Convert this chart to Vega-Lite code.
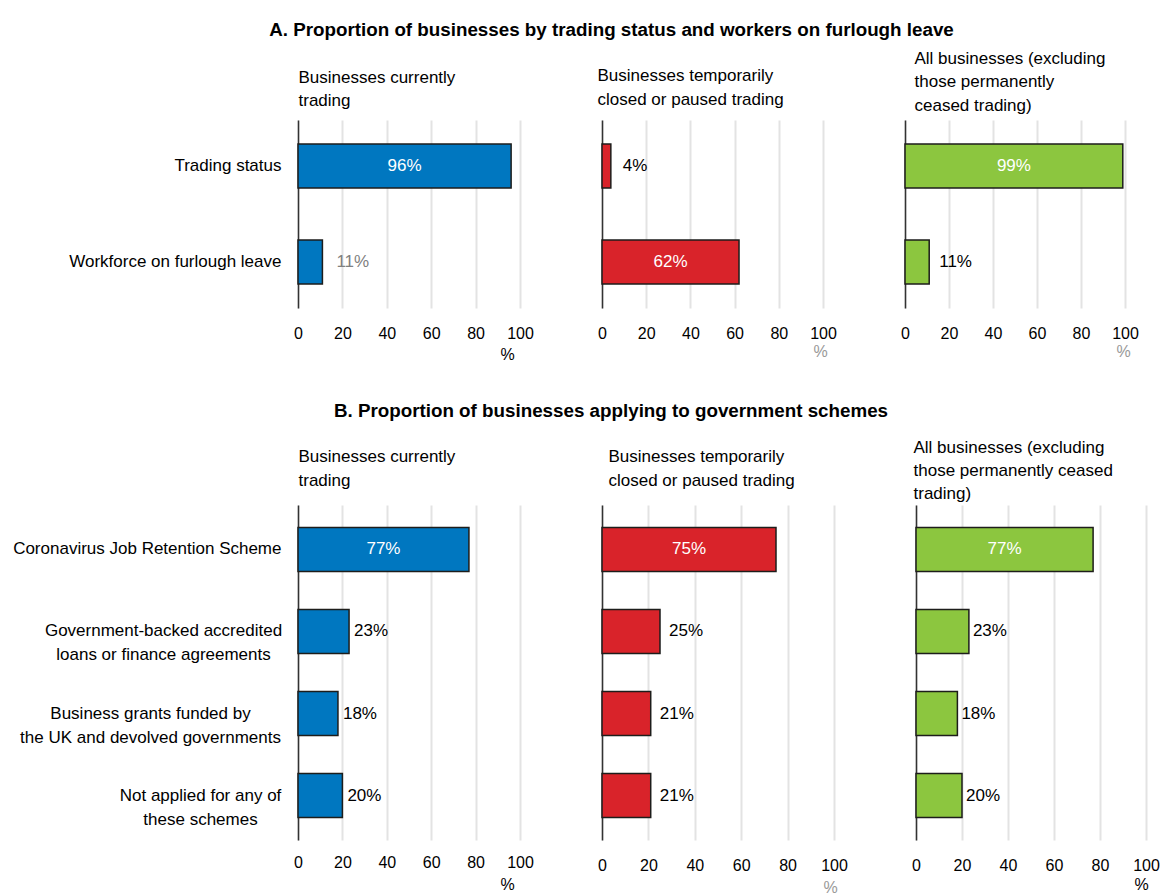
{
  "$schema": "https://vega.github.io/schema/vega-lite/v6.json",
  "background": "white",
  "padding": {"left": 12, "top": 21, "right": 5, "bottom": 5},
  "config": {
    "font": "Liberation Sans",
    "view": {"stroke": null},
    "axis": {"labelFont": "Liberation Sans", "labelFontSize": 17, "labelColor": "#000", "titleFont": "Liberation Sans", "titleFontSize": 17, "titleFontWeight": "normal", "titleColor": "#000", "ticks": false},
    "title": {"font": "Liberation Sans", "fontSize": 18.8, "fontWeight": "bold", "color": "#000"},
    "text": {"font": "Liberation Sans", "fontSize": 17}
  },
  "data": {"values": [
    {"section": "A", "panel": 1, "item": "Trading status", "share": 0.96},
    {"section": "A", "panel": 1, "item": "Workforce on furlough leave", "share": 0.11},
    {"section": "A", "panel": 2, "item": "Trading status", "share": 0.04},
    {"section": "A", "panel": 2, "item": "Workforce on furlough leave", "share": 0.62},
    {"section": "A", "panel": 3, "item": "Trading status", "share": 0.99},
    {"section": "A", "panel": 3, "item": "Workforce on furlough leave", "share": 0.11},
    {"section": "B", "panel": 1, "item": "Coronavirus Job Retention Scheme", "share": 0.77},
    {"section": "B", "panel": 1, "item": "Government-backed accredited\nloans or finance agreements", "share": 0.23},
    {"section": "B", "panel": 1, "item": "Business grants funded by\nthe UK and devolved governments", "share": 0.18},
    {"section": "B", "panel": 1, "item": "Not applied for any of\nthese schemes", "share": 0.20},
    {"section": "B", "panel": 2, "item": "Coronavirus Job Retention Scheme", "share": 0.75},
    {"section": "B", "panel": 2, "item": "Government-backed accredited\nloans or finance agreements", "share": 0.25},
    {"section": "B", "panel": 2, "item": "Business grants funded by\nthe UK and devolved governments", "share": 0.21},
    {"section": "B", "panel": 2, "item": "Not applied for any of\nthese schemes", "share": 0.21},
    {"section": "B", "panel": 3, "item": "Coronavirus Job Retention Scheme", "share": 0.77},
    {"section": "B", "panel": 3, "item": "Government-backed accredited\nloans or finance agreements", "share": 0.23},
    {"section": "B", "panel": 3, "item": "Business grants funded by\nthe UK and devolved governments", "share": 0.18},
    {"section": "B", "panel": 3, "item": "Not applied for any of\nthese schemes", "share": 0.20}
  ]},
  "bounds": "flush",
  "spacing": 385,
  "vconcat": [
    {
      "bounds": "flush",
      "spacing": 82,
      "hconcat": [
        {
          "width": 222, "height": 188,
          "transform": [{"filter": "datum.section == 'A' && datum.panel == 1"}],
          "encoding": {"y": {"field": "item", "type": "nominal", "sort": null, "scale": {"paddingInner": 0.542, "paddingOuter": 0.25},
            "axis": {"title": ["Businesses currently", "trading"], "titleAngle": 0, "titleAlign": "left", "titleBaseline": "bottom", "titleX": 0, "titleY": -34, "titleLineHeight": 23, "labelPadding": 17, "labelLimit": 400, "domainColor": "#333", "domainWidth": 1.5, "labelExpr": "split(datum.label, '\\n')", "labelLineHeight": 23}}},
          "layer": [
            {"mark": {"type": "bar", "color": "#0077c0", "stroke": "#1d1d1b", "strokeWidth": 1.5},
             "encoding": {"x": {"field": "share", "type": "quantitative", "scale": {"domain": [0, 1]},
               "axis": {"values": [0, 0.2, 0.4, 0.6, 0.8, 1], "labelExpr": "format(datum.value*100, 'd')", "labelFontSize": 16, "labelFlush": false, "domain": false, "grid": true, "gridColor": "#e3e3e3", "gridWidth": 2, "labelPadding": 17, "title": "%", "titleX": 209, "titleY": 38, "titleAlign": "center", "titleBaseline": "top", "titleFontSize": 16, "titleColor": "#000"}}}},
            {"transform": [{"filter": "datum.share > 0.5"}], "mark": {"type": "text", "color": "white", "baseline": "middle"},
             "encoding": {"x": {"field": "share", "type": "quantitative", "scale": {"domain": [0, 2]}, "axis": null}, "text": {"field": "share", "type": "quantitative", "format": ".0%"}}},
            {"transform": [{"filter": "datum.share <= 0.5"}], "mark": {"type": "text", "color": "#808080", "align": "left", "baseline": "middle", "dx": 14},
             "encoding": {"x": {"field": "share", "type": "quantitative", "scale": {"domain": [0, 1]}, "axis": null}, "text": {"field": "share", "type": "quantitative", "format": ".0%"}}}
          ],
          "resolve": {"scale": {"x": "independent"}}
        },
        {
          "width": 221, "height": 188,
          "title": {"text": "A. Proportion of businesses by trading status and workers on furlough leave", "anchor": "middle", "dx": -101, "offset": 26},
          "transform": [{"filter": "datum.section == 'A' && datum.panel == 2"}],
          "encoding": {"y": {"field": "item", "type": "nominal", "sort": null, "scale": {"paddingInner": 0.542, "paddingOuter": 0.25},
            "axis": {"title": ["Businesses temporarily", "closed or paused trading"], "titleAngle": 0, "titleAlign": "left", "titleBaseline": "bottom", "titleX": -5, "titleY": -36, "titleLineHeight": 24, "labels": false, "domainColor": "#333", "domainWidth": 1.5}}},
          "layer": [
            {"mark": {"type": "bar", "color": "#d9232a", "stroke": "#1d1d1b", "strokeWidth": 1.5},
             "encoding": {"x": {"field": "share", "type": "quantitative", "scale": {"domain": [0, 1]},
               "axis": {"values": [0, 0.2, 0.4, 0.6, 0.8, 1], "labelExpr": "format(datum.value*100, 'd')", "labelFontSize": 16, "labelFlush": false, "domain": false, "grid": true, "gridColor": "#e3e3e3", "gridWidth": 2, "labelPadding": 17, "title": "%", "titleX": 218, "titleY": 35, "titleAlign": "center", "titleBaseline": "top", "titleFontSize": 16, "titleColor": "#999"}}}},
            {"transform": [{"filter": "datum.share > 0.5"}], "mark": {"type": "text", "color": "white", "baseline": "middle"},
             "encoding": {"x": {"field": "share", "type": "quantitative", "scale": {"domain": [0, 2]}, "axis": null}, "text": {"field": "share", "type": "quantitative", "format": ".0%"}}},
            {"transform": [{"filter": "datum.share <= 0.5"}], "mark": {"type": "text", "color": "#000", "align": "left", "baseline": "middle", "dx": 12},
             "encoding": {"x": {"field": "share", "type": "quantitative", "scale": {"domain": [0, 1]}, "axis": null}, "text": {"field": "share", "type": "quantitative", "format": ".0%"}}}
          ],
          "resolve": {"scale": {"x": "independent"}}
        },
        {
          "width": 220, "height": 188,
          "transform": [{"filter": "datum.section == 'A' && datum.panel == 3"}],
          "encoding": {"y": {"field": "item", "type": "nominal", "sort": null, "scale": {"paddingInner": 0.542, "paddingOuter": 0.25},
            "axis": {"title": ["All businesses (excluding", "those permanently", "ceased trading)"], "titleAngle": 0, "titleAlign": "left", "titleBaseline": "bottom", "titleX": 9, "titleY": -53, "titleLineHeight": 23.5, "labels": false, "domainColor": "#333", "domainWidth": 1.5}}},
          "layer": [
            {"mark": {"type": "bar", "color": "#8cc63f", "stroke": "#1d1d1b", "strokeWidth": 1.5},
             "encoding": {"x": {"field": "share", "type": "quantitative", "scale": {"domain": [0, 1]},
               "axis": {"values": [0, 0.2, 0.4, 0.6, 0.8, 1], "labelExpr": "format(datum.value*100, 'd')", "labelFontSize": 16, "labelFlush": false, "domain": false, "grid": true, "gridColor": "#e3e3e3", "gridWidth": 2, "labelPadding": 17, "title": "%", "titleX": 218, "titleY": 35, "titleAlign": "center", "titleBaseline": "top", "titleFontSize": 16, "titleColor": "#999"}}}},
            {"transform": [{"filter": "datum.share > 0.5"}], "mark": {"type": "text", "color": "white", "baseline": "middle"},
             "encoding": {"x": {"field": "share", "type": "quantitative", "scale": {"domain": [0, 2]}, "axis": null}, "text": {"field": "share", "type": "quantitative", "format": ".0%"}}},
            {"transform": [{"filter": "datum.share <= 0.5"}], "mark": {"type": "text", "color": "#000", "align": "left", "baseline": "middle", "dx": 10},
             "encoding": {"x": {"field": "share", "type": "quantitative", "scale": {"domain": [0, 1]}, "axis": null}, "text": {"field": "share", "type": "quantitative", "format": ".0%"}}}
          ],
          "resolve": {"scale": {"x": "independent"}}
        }
      ]
    },
    {
      "bounds": "flush",
      "spacing": 82,
      "hconcat": [
        {
          "width": 222, "height": 335,
          "transform": [{"filter": "datum.section == 'B' && datum.panel == 1"}],
          "encoding": {"y": {"field": "item", "type": "nominal", "sort": null, "scale": {"paddingInner": 0.463, "paddingOuter": 0.274},
            "axis": {"title": ["Businesses currently", "trading"], "titleAngle": 0, "titleAlign": "left", "titleBaseline": "bottom", "titleX": 0, "titleY": -40, "titleLineHeight": 24, "labelLimit": 400, "domainColor": "#333", "domainWidth": 1.5, "labelExpr": "split(datum.label, '\\n')", "labelLineHeight": 24,
              "labelAlign": {"condition": {"test": "indexof(datum.value, '\\n') >= 0", "value": "center"}, "value": "right"},
              "labelPadding": {"condition": [
                {"test": "indexof(datum.value, 'Government') == 0", "value": 135},
                {"test": "indexof(datum.value, 'Business grants') == 0", "value": 148},
                {"test": "indexof(datum.value, 'Not applied') == 0", "value": 98}
              ], "value": 17}}}},
          "layer": [
            {"mark": {"type": "bar", "color": "#0077c0", "stroke": "#1d1d1b", "strokeWidth": 1.5},
             "encoding": {"x": {"field": "share", "type": "quantitative", "scale": {"domain": [0, 1]},
               "axis": {"values": [0, 0.2, 0.4, 0.6, 0.8, 1], "labelExpr": "format(datum.value*100, 'd')", "labelFontSize": 16, "labelFlush": false, "domain": false, "grid": true, "gridColor": "#e3e3e3", "gridWidth": 2, "labelPadding": 14, "title": "%", "titleX": 209, "titleY": 36, "titleAlign": "center", "titleBaseline": "top", "titleFontSize": 16, "titleColor": "#000"}}}},
            {"transform": [{"filter": "datum.share > 0.5"}], "mark": {"type": "text", "color": "white", "baseline": "middle"},
             "encoding": {"x": {"field": "share", "type": "quantitative", "scale": {"domain": [0, 2]}, "axis": null}, "text": {"field": "share", "type": "quantitative", "format": ".0%"}}},
            {"transform": [{"filter": "datum.share <= 0.5"}], "mark": {"type": "text", "color": "#000", "align": "left", "baseline": "middle", "dx": 5},
             "encoding": {"x": {"field": "share", "type": "quantitative", "scale": {"domain": [0, 1]}, "axis": null}, "text": {"field": "share", "type": "quantitative", "format": ".0%"}}}
          ],
          "resolve": {"scale": {"x": "independent"}}
        },
        {
          "width": 232, "height": 335,
          "title": {"text": "B. Proportion of businesses applying to government schemes", "anchor": "middle", "dx": -107, "offset": 26},
          "transform": [{"filter": "datum.section == 'B' && datum.panel == 2"}],
          "encoding": {"y": {"field": "item", "type": "nominal", "sort": null, "scale": {"paddingInner": 0.463, "paddingOuter": 0.274},
            "axis": {"title": ["Businesses temporarily", "closed or paused trading"], "titleAngle": 0, "titleAlign": "left", "titleBaseline": "bottom", "titleX": 6, "titleY": -40, "titleLineHeight": 24, "labels": false, "domainColor": "#333", "domainWidth": 1.5}}},
          "layer": [
            {"mark": {"type": "bar", "color": "#d9232a", "stroke": "#1d1d1b", "strokeWidth": 1.5},
             "encoding": {"x": {"field": "share", "type": "quantitative", "scale": {"domain": [0, 1]},
               "axis": {"values": [0, 0.2, 0.4, 0.6, 0.8, 1], "labelExpr": "format(datum.value*100, 'd')", "labelFontSize": 16, "labelFlush": false, "domain": false, "grid": true, "gridColor": "#e3e3e3", "gridWidth": 2, "labelPadding": 17, "title": "%", "titleX": 228, "titleY": 39, "titleAlign": "center", "titleBaseline": "top", "titleFontSize": 16, "titleColor": "#999"}}}},
            {"transform": [{"filter": "datum.share > 0.5"}], "mark": {"type": "text", "color": "white", "baseline": "middle"},
             "encoding": {"x": {"field": "share", "type": "quantitative", "scale": {"domain": [0, 2]}, "axis": null}, "text": {"field": "share", "type": "quantitative", "format": ".0%"}}},
            {"transform": [{"filter": "datum.share <= 0.5"}], "mark": {"type": "text", "color": "#000", "align": "left", "baseline": "middle", "dx": 9},
             "encoding": {"x": {"field": "share", "type": "quantitative", "scale": {"domain": [0, 1]}, "axis": null}, "text": {"field": "share", "type": "quantitative", "format": ".0%"}}}
          ],
          "resolve": {"scale": {"x": "independent"}}
        },
        {
          "width": 230, "height": 335,
          "transform": [{"filter": "datum.section == 'B' && datum.panel == 3"}],
          "encoding": {"y": {"field": "item", "type": "nominal", "sort": null, "scale": {"paddingInner": 0.463, "paddingOuter": 0.274},
            "axis": {"title": ["All businesses (excluding", "those permanently ceased", "trading)"], "titleAngle": 0, "titleAlign": "left", "titleBaseline": "bottom", "titleX": -3, "titleY": -49, "titleLineHeight": 23, "labels": false, "domainColor": "#333", "domainWidth": 1.5}}},
          "layer": [
            {"mark": {"type": "bar", "color": "#8cc63f", "stroke": "#1d1d1b", "strokeWidth": 1.5},
             "encoding": {"x": {"field": "share", "type": "quantitative", "scale": {"domain": [0, 1]},
               "axis": {"values": [0, 0.2, 0.4, 0.6, 0.8, 1], "labelExpr": "format(datum.value*100, 'd')", "labelFontSize": 16, "labelFlush": false, "domain": false, "grid": true, "gridColor": "#e3e3e3", "gridWidth": 2, "labelPadding": 17, "title": "%", "titleX": 225, "titleY": 36, "titleAlign": "center", "titleBaseline": "top", "titleFontSize": 16, "titleColor": "#000"}}}},
            {"transform": [{"filter": "datum.share > 0.5"}], "mark": {"type": "text", "color": "white", "baseline": "middle"},
             "encoding": {"x": {"field": "share", "type": "quantitative", "scale": {"domain": [0, 2]}, "axis": null}, "text": {"field": "share", "type": "quantitative", "format": ".0%"}}},
            {"transform": [{"filter": "datum.share <= 0.5"}], "mark": {"type": "text", "color": "#000", "align": "left", "baseline": "middle", "dx": 4},
             "encoding": {"x": {"field": "share", "type": "quantitative", "scale": {"domain": [0, 1]}, "axis": null}, "text": {"field": "share", "type": "quantitative", "format": ".0%"}}}
          ],
          "resolve": {"scale": {"x": "independent"}}
        }
      ]
    }
  ]
}
